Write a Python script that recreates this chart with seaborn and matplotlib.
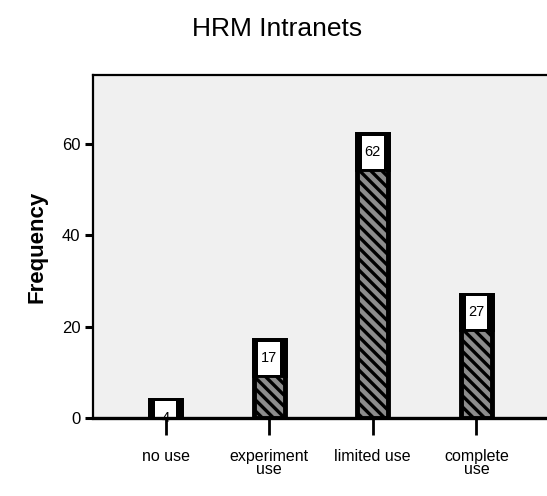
import matplotlib
matplotlib.use('Agg')
import matplotlib.pyplot as plt
import seaborn as sns
import pandas as pd

# Data
categories = ['no use', 'experiment\nuse', 'limited use', 'complete\nuse']
frequencies = [4, 17, 62, 27]
y_ticks = [0, 20, 40, 60]

sns.set_style('ticks')
plt.rcParams['font.family'] = ['Liberation Sans', 'DejaVu Sans']
plt.rcParams['text.color'] = 'black'
plt.rcParams['axes.labelcolor'] = 'black'
plt.rcParams['hatch.linewidth'] = 2.4
plt.rcParams['hatch.color'] = 'black'

df = pd.DataFrame({'use': categories, 'freq': frequencies})

fig = plt.figure(figsize=(5.47, 4.96), dpi=100)
ax = fig.add_axes([0.170, 0.157, 0.845, 0.692])
ax.set_facecolor('#f0f0f0')

bar_w = 0.30
edge_w = 3.5

# hatched bars
sns.barplot(data=df, x='use', y='freq', color='#8c8c8c', saturation=1,
            width=bar_w, edgecolor='black', linewidth=edge_w, hatch='\\\\\\',
            ax=ax, zorder=2)

# value boxes: black band at the top of the bar with a white label field inside
pos = range(len(frequencies))
band_h = 7.6
ax.bar(pos, [band_h] * len(frequencies),
       bottom=[v - band_h for v in frequencies], width=bar_w,
       color='black', edgecolor='black', linewidth=edge_w, zorder=3)
box_h = 7.2
ax.bar(pos, [box_h] * len(frequencies),
       bottom=[v - 0.3 - box_h for v in frequencies], width=0.21,
       color='white', linewidth=0, zorder=4)
for i, v in enumerate(frequencies):
    ax.text(i, v - 3.9, str(v), ha='center', va='center', fontsize=10.5,
            zorder=5, clip_on=False)

ax.set_xlim(-0.70, 3.76)
ax.set_ylim(0, 75)
ax.set_yticks(y_ticks)
ax.set_xlabel('')
ax.set_ylabel('Frequency', fontsize=16, fontweight='bold', labelpad=10)

for side in ['left', 'top', 'right']:
    ax.spines[side].set_linewidth(1.6)
    ax.spines[side].set_color('black')
ax.spines['bottom'].set_linewidth(2.4)
ax.spines['bottom'].set_color('black')
ax.spines['bottom'].set_zorder(6)

ax.tick_params(axis='y', length=6, width=2.2, labelsize=12, pad=3, colors='black')
ax.tick_params(axis='x', length=12, width=2, labelsize=11.5, pad=10, colors='black')
for lab in ax.get_xticklabels():
    lab.set_linespacing(0.9)

fig.suptitle('HRM Intranets', x=0.507, y=0.965, fontsize=19, color='black')

fig.savefig('out.png', dpi=100)
